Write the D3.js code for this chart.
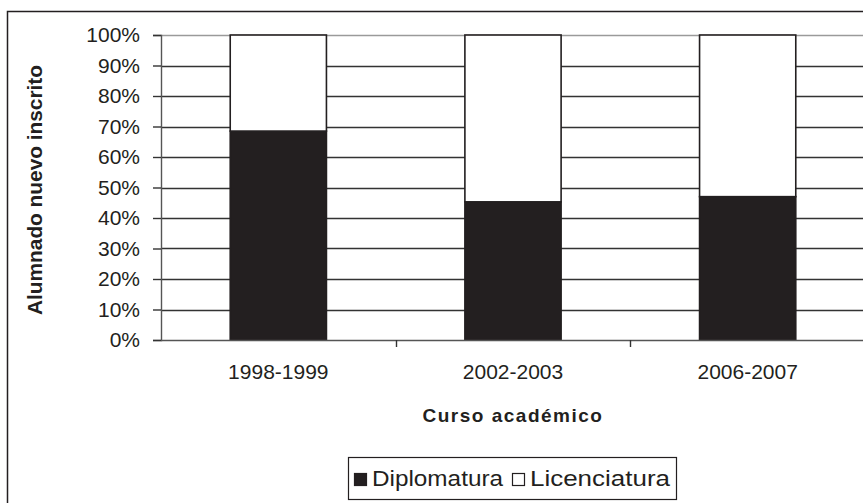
<!DOCTYPE html>
<html>
<head>
<meta charset="UTF-8">
<style>
body{
	margin: 0;
	background: #fff;
	font-family: "Liberation Sans", Arial, Helvetica, sans-serif;
}
svg text{
	fill: #231f20;
}
.tick-label{
	font-size: 21px;
}
.axis-title{
	font-size: 20px;
	font-weight: bold;
}
.legend text{
	font-size: 22px;
}
</style>
<script src="https://cdn.jsdelivr.net/npm/d3@7"></script>
</head>
<body>
<script>
// data
var cursos = ["1998-1999", "2002-2003", "2006-2007"];
var diplomatura = [0.685, 0.453, 0.470];
var licenciatura = [0.315, 0.547, 0.530];
var yTicks = [0, 0.1, 0.2, 0.3, 0.4, 0.5, 0.6, 0.7, 0.8, 0.9, 1.0];
var series = ["Diplomatura", "Licenciatura"];

var W = 863, H = 503;
var plot = {left: 161, top: 35, right: 865, bottom: 340};

var svg = d3.select("body").append("svg")
	.attr("width", W)
	.attr("height", H);

// outer frame (cut by the picture edge on right/bottom)
svg.append("rect")
	.attr("x", 7.5).attr("y", 11.5)
	.attr("width", W).attr("height", H)
	.attr("fill", "none")
	.attr("stroke", "#231f20")
	.attr("stroke-width", 1.5);

var x = d3.scaleBand()
	.domain(cursos)
	.range([plot.left, plot.right])
	.paddingInner(0.59)
	.paddingOuter(0.295);

var y = d3.scaleLinear()
	.domain([0, 1])
	.range([plot.bottom, plot.top]);

// gridlines
svg.append("g").selectAll("line")
	.data(yTicks.filter(function(d){ return d > 0; }))
	.enter().append("line")
	.attr("x1", plot.left).attr("x2", W)
	.attr("y1", function(d){ return Math.round(y(d)) + 0.5; })
	.attr("y2", function(d){ return Math.round(y(d)) + 0.5; })
	.attr("stroke", function(d){ return d === 1 ? "#9a9a9a" : "#333"; })
	.attr("stroke-width", 1.4);

// stacked bars
var stackData = cursos.map(function(c, i){
	return {curso: c, Diplomatura: diplomatura[i], Licenciatura: licenciatura[i]};
});
var stacked = d3.stack().keys(series)(stackData);
var colors = {Diplomatura: "#231f20", Licenciatura: "#ffffff"};

svg.append("g").selectAll("g")
	.data(stacked)
	.enter().append("g")
	.attr("fill", function(s){ return colors[s.key]; })
	.selectAll("rect")
	.data(function(s){ return s; })
	.enter().append("rect")
	.attr("x", function(d){ return x(d.data.curso); })
	.attr("y", function(d){ return y(d[1]); })
	.attr("width", x.bandwidth())
	.attr("height", function(d){ return y(d[0]) - y(d[1]); })
	.attr("stroke", "#231f20")
	.attr("stroke-width", 1.6);

// y axis
var yAxis = d3.axisLeft(y)
	.tickValues(yTicks)
	.tickSize(8)
	.tickPadding(13)
	.tickFormat(d3.format(".0%"));

var gy = svg.append("g")
	.attr("transform", "translate(" + plot.left + ",0)")
	.call(yAxis);
gy.select(".domain").attr("stroke", "#555").attr("stroke-width", 1.4);
gy.selectAll(".tick line").attr("stroke", "#333").attr("stroke-width", 1.4);
gy.selectAll(".tick text")
	.attr("class", "tick-label")
	.attr("font-family", null).attr("font-size", null);

// x axis: ticks sit between categories
var xAxis = d3.axisBottom(x).tickSize(0).tickPadding(24);
var gx = svg.append("g")
	.attr("transform", "translate(0," + plot.bottom + ")")
	.call(xAxis);
gx.select(".domain").remove();
gx.selectAll(".tick text")
	.attr("class", "tick-label")
	.attr("font-family", null).attr("font-size", null);

gx.append("line")
	.attr("x1", plot.left).attr("x2", W)
	.attr("y1", 0.5).attr("y2", 0.5)
	.attr("stroke", "#555").attr("stroke-width", 1.4);
gx.selectAll(".sep")
	.data(cursos.slice(1))
	.enter().append("line")
	.attr("class", "sep")
	.attr("x1", function(d){ return Math.round(x(d) - x.step() * x.paddingInner() / 2) + 0.5; })
	.attr("x2", function(d){ return Math.round(x(d) - x.step() * x.paddingInner() / 2) + 0.5; })
	.attr("y1", 0).attr("y2", 7)
	.attr("stroke", "#333").attr("stroke-width", 1.4);

// axis titles
svg.append("text")
	.attr("class", "axis-title")
	.attr("transform", "translate(42,190) rotate(-90)")
	.attr("text-anchor", "middle")
	.attr("textLength", 250)
	.attr("lengthAdjust", "spacingAndGlyphs")
	.text("Alumnado nuevo inscrito");

svg.append("text")
	.attr("class", "axis-title")
	.attr("x", 513).attr("y", 422)
	.attr("text-anchor", "middle")
	.style("font-size", "19px")
	.attr("letter-spacing", "1.5px")
	.text("Curso académico");

// legend
var legend = svg.append("g").attr("class", "legend");
legend.append("rect")
	.attr("x", 348.5).attr("y", 457.5)
	.attr("width", 328).attr("height", 42)
	.attr("fill", "#fff")
	.attr("stroke", "#231f20").attr("stroke-width", 1.2);

var legendX = [354, 512];
var legendLen = [131, 140];
var items = legend.selectAll(".item")
	.data(series)
	.enter().append("g")
	.attr("class", "item")
	.attr("transform", function(d, i){ return "translate(" + legendX[i] + ",0)"; });
items.append("rect")
	.attr("x", 0.5).attr("y", 473.5)
	.attr("width", 12).attr("height", 12)
	.attr("fill", function(d){ return colors[d]; })
	.attr("stroke", "#231f20").attr("stroke-width", 1.2);
items.append("text")
	.attr("x", 18).attr("y", 486)
	.attr("textLength", function(d, i){ return legendLen[i]; })
	.attr("lengthAdjust", "spacingAndGlyphs")
	.text(function(d){ return d; });
</script>
</body>
</html>
